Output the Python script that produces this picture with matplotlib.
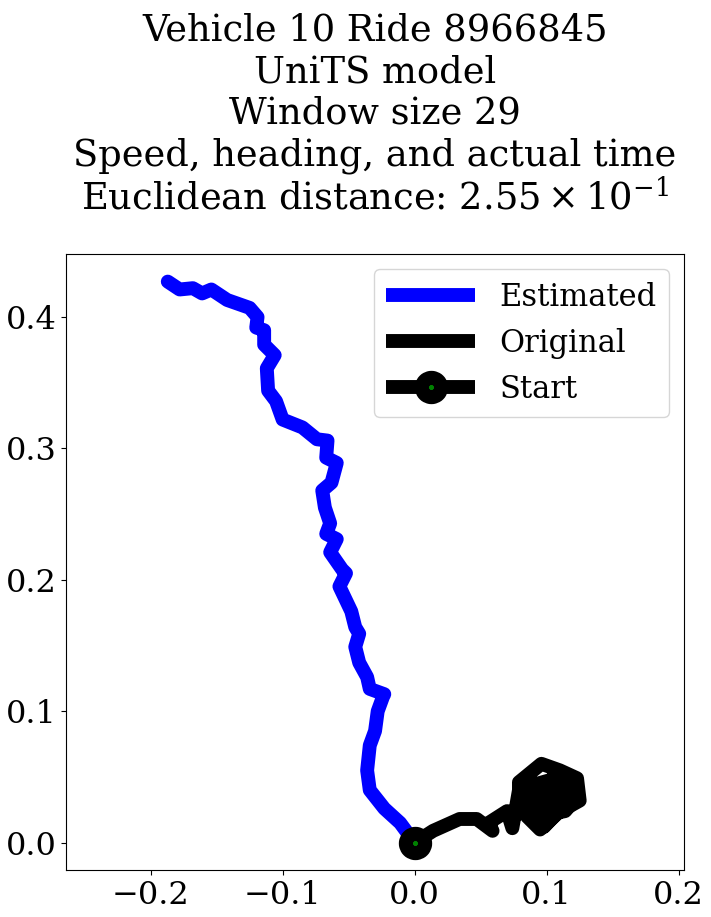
import matplotlib
matplotlib.use("Agg")
import matplotlib.pyplot as plt

plt.rcParams['font.family'] = 'DejaVu Serif'
plt.rcParams['mathtext.fontset'] = 'dejavuserif'

# trajectories
est_x = [-0.187, -0.178, -0.168, -0.161, -0.154, -0.142, -0.125, -0.119, -0.120, -0.114,
         -0.114, -0.106, -0.112, -0.111, -0.105, -0.100, -0.085, -0.074, -0.066, -0.067,
         -0.059, -0.063, -0.070, -0.068, -0.064, -0.067, -0.059, -0.064, -0.055, -0.052,
         -0.057, -0.048, -0.045, -0.042, -0.045, -0.042, -0.036, -0.034, -0.023, -0.024,
         -0.028, -0.030, -0.034, -0.036, -0.034, -0.023, -0.011, 0.0]
est_y = [0.427, 0.421, 0.422, 0.418, 0.421, 0.413, 0.407, 0.400, 0.392, 0.390,
         0.379, 0.371, 0.361, 0.344, 0.336, 0.322, 0.316, 0.307, 0.306, 0.293,
         0.289, 0.274, 0.268, 0.255, 0.243, 0.235, 0.231, 0.221, 0.208, 0.205,
         0.195, 0.176, 0.164, 0.159, 0.149, 0.137, 0.126, 0.117, 0.113, 0.111,
         0.100, 0.085, 0.074, 0.055, 0.040, 0.026, 0.015, 0.0]
orig_x = [0.0, 0.014, 0.034, 0.047, 0.059, 0.056, 0.070, 0.074, 0.079, 0.079,
          0.096, 0.110, 0.123, 0.125, 0.100, 0.087, 0.102, 0.115, 0.098, 0.090,
          0.120, 0.105, 0.085, 0.095, 0.122, 0.100, 0.082, 0.092, 0.118, 0.110,
          0.088, 0.078, 0.098, 0.121, 0.104, 0.090, 0.080, 0.094, 0.114, 0.120]
orig_y = [0.0, 0.009, 0.018, 0.018, 0.009, 0.015, 0.024, 0.011, 0.040, 0.046,
          0.060, 0.055, 0.049, 0.032, 0.018, 0.024, 0.040, 0.030, 0.012, 0.030,
          0.040, 0.050, 0.020, 0.010, 0.035, 0.045, 0.028, 0.016, 0.030, 0.042,
          0.036, 0.022, 0.026, 0.038, 0.048, 0.044, 0.032, 0.020, 0.024, 0.031]

fig, ax = plt.subplots(figsize=(7.11, 9.17), dpi=100)
fig.subplots_adjust(left=0.093, right=0.962, bottom=0.051, top=0.723)

ax.plot(est_x, est_y, color='blue', lw=10, solid_capstyle='round',
        solid_joinstyle='round', label='Estimated')
ax.plot(orig_x, orig_y, color='black', lw=10, solid_capstyle='round',
        solid_joinstyle='round', label='Original')
ax.plot([orig_x[0]], [orig_y[0]], color='black', lw=10, marker='o', markersize=14,
        markerfacecolor='green', markeredgecolor='black', markeredgewidth=10,
        label='Start', zorder=5)

ax.set_xlim(-0.264, 0.204)
ax.set_ylim(-0.021, 0.448)
ax.set_xticks([-0.2, -0.1, 0.0, 0.1, 0.2])
ax.set_yticks([0.0, 0.1, 0.2, 0.3, 0.4])
ax.tick_params(labelsize=23)
leg = ax.legend(fontsize=22, loc='upper right', handlelength=2.9)
for h in leg.get_lines():
    h.set_solid_capstyle('butt')

ax.set_title("Vehicle 10 Ride 8966845\nUniTS model\nWindow size 29\n"
             "Speed, heading, and actual time\n"
             r"Euclidean distance: $2.55 \times 10^{-1}$", fontsize=26.5, pad=32)

fig.savefig('out.png')
